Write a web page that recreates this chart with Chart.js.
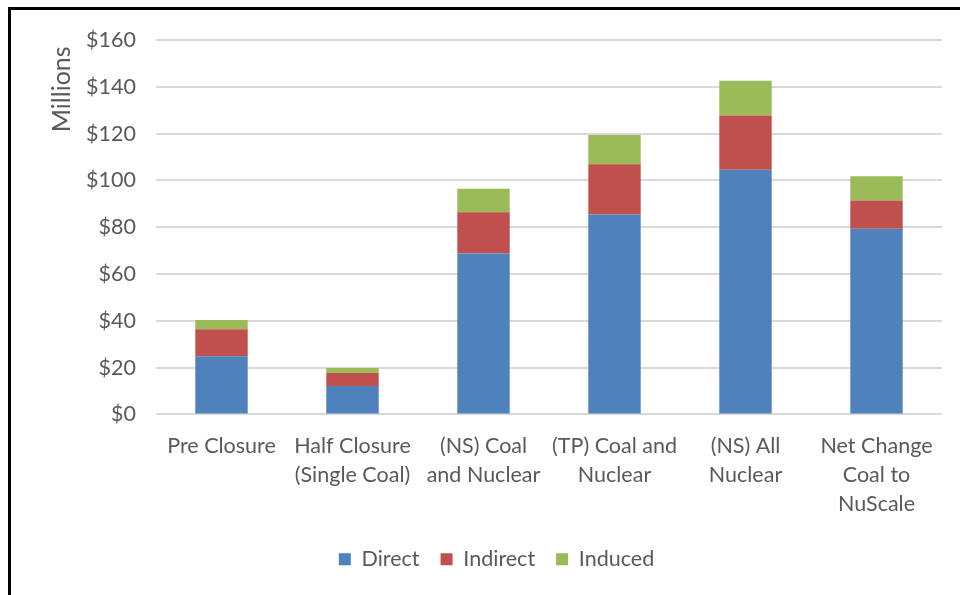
<!DOCTYPE html>
<html lang="en">
<head>
    <meta charset="UTF-8">
    <title>Economic Impact by Scenario</title>
    <script src="https://cdn.jsdelivr.net/npm/chart.js"></script>
    <style>
        body {
            margin: 0;
            background-color: #ffffff;
            font-family: 'Lato', sans-serif;
        }
        .chart-frame {
            position: absolute;
            left: 8px;
            top: 7px;
            width: 949px;
            height: 585px;
            border-left: 3px solid #000;
            border-top: 3px solid #000;
            background: #fff;
        }
        .chart-container {
            position: relative;
            width: 949px;
            height: 585px;
        }
    </style>
</head>
<body>
    <div class="chart-frame">
        <div class="chart-container">
            <canvas id="impactChart"></canvas>
        </div>
    </div>

    <script>
        const categories = [
            'Pre Closure',
            ['Half Closure', '(Single Coal)'],
            ['(NS) Coal', 'and Nuclear'],
            ['(TP) Coal and', 'Nuclear'],
            ['(NS) All', 'Nuclear'],
            ['Net Change', 'Coal to', 'NuScale']
        ];
        // millions of dollars
        const direct = [24.9, 12.1, 68.8, 85.4, 104.6, 79.3];
        const indirect = [11.5, 5.6, 17.6, 21.5, 23.1, 12.1];
        const induced = [3.9, 2.1, 10.0, 12.5, 14.9, 10.4];
        const yTicks = [0, 20, 40, 60, 80, 100, 120, 140, 160];

        const textColor = '#595959';
        const fontFamily = "'Lato', sans-serif";

        // the legend sits a little right of centre in the original
        const legendShift = {
            id: 'legendShift',
            afterLayout(chart) {
                const lg = chart.legend;
                if (lg) {
                    lg.left += 20;
                    lg.right += 20;
                }
            }
        };

        const ctx = document.getElementById('impactChart').getContext('2d');
        new Chart(ctx, {
            type: 'bar',
            data: {
                labels: categories,
                datasets: [
                    { label: 'Direct', data: direct, backgroundColor: '#4F81BD' },
                    { label: 'Indirect', data: indirect, backgroundColor: '#C0504D' },
                    { label: 'Induced', data: induced, backgroundColor: '#9BBB59' }
                ]
            },
            options: {
                responsive: true,
                maintainAspectRatio: false,
                animation: false,
                datasets: {
                    bar: {
                        categoryPercentage: 1.0,
                        barPercentage: 0.4
                    }
                },
                layout: {
                    padding: { top: 30, right: 18, bottom: 15, left: 0 }
                },
                scales: {
                    x: {
                        stacked: true,
                        grid: { display: false },
                        border: { display: false },
                        ticks: {
                            color: textColor,
                            font: { family: fontFamily, size: 21.5, lineHeight: 1.35 },
                            maxRotation: 0,
                            autoSkip: false,
                            padding: 9
                        }
                    },
                    y: {
                        stacked: true,
                        min: yTicks[0],
                        max: yTicks[yTicks.length - 1],
                        afterBuildTicks: function(scale) {
                            scale.ticks = yTicks.map(v => ({ value: v }));
                        },
                        afterFit: function(scale) {
                            scale.width = 145;
                        },
                        grid: {
                            color: '#D9D9D9',
                            lineWidth: 2,
                            drawTicks: true,
                            tickLength: 16,
                            tickColor: 'rgba(0,0,0,0)'
                        },
                        border: { display: false },
                        ticks: {
                            color: textColor,
                            font: { family: fontFamily, size: 21.5 },
                            padding: 4,
                            callback: function(value) {
                                return '$' + value;
                            }
                        },
                        title: {
                            display: true,
                            text: 'Millions ',
                            align: 'end',
                            color: textColor,
                            font: { family: fontFamily, size: 25 },
                            padding: { top: 36, bottom: 0 }
                        }
                    }
                },
                plugins: {
                    legend: {
                        position: 'bottom',
                        labels: {
                            color: textColor,
                            font: { family: fontFamily, size: 21.5 },
                            boxWidth: 12,
                            boxHeight: 12,
                            padding: 21
                        }
                    },
                    tooltip: { enabled: false }
                }
            },
            plugins: [legendShift]
        });
    </script>
</body>
</html>
